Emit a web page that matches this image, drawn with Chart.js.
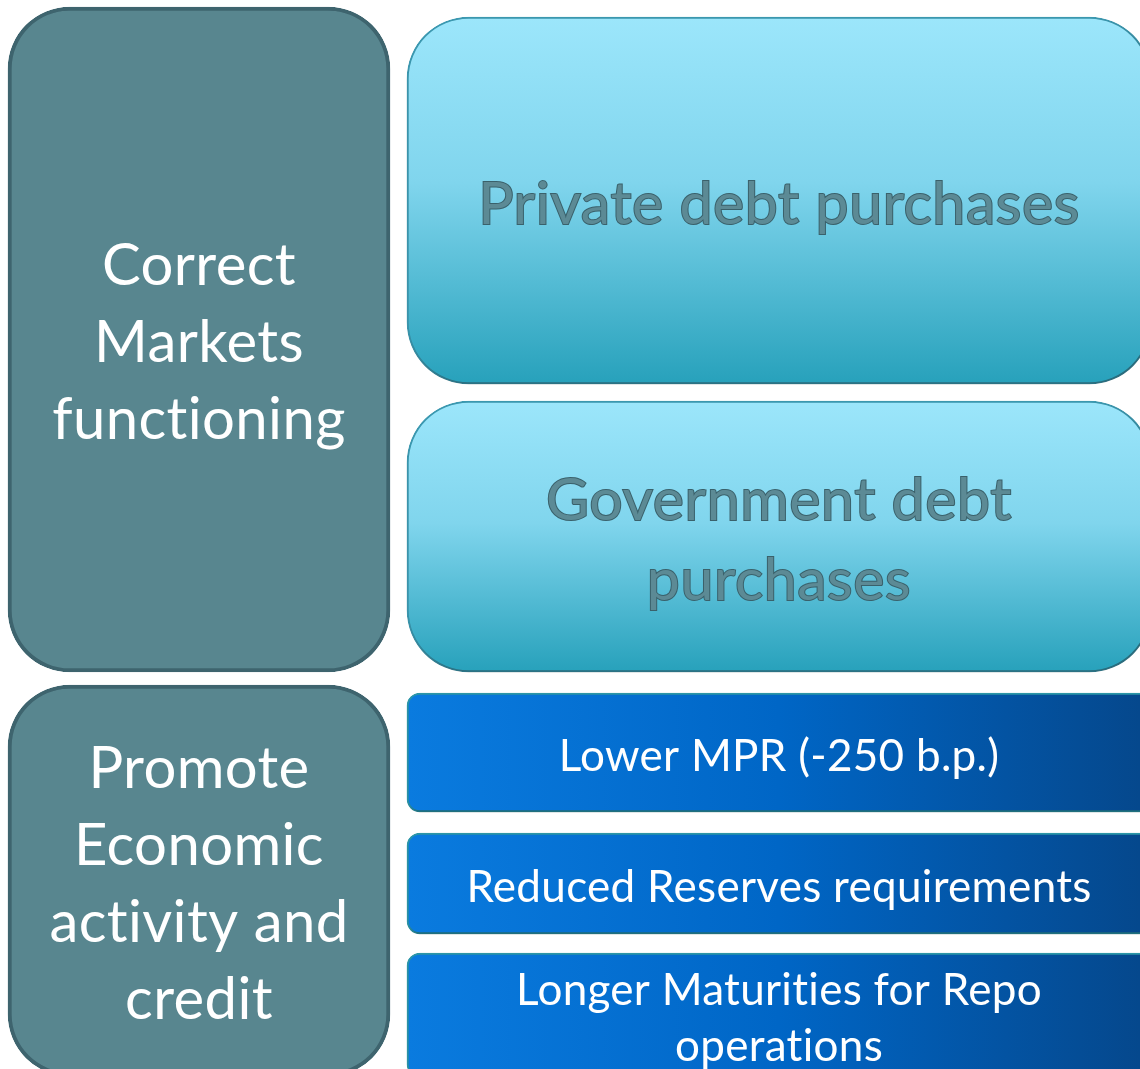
<!DOCTYPE html>
<html>
<head>
<meta charset="utf-8">
<script src="https://cdn.jsdelivr.net/npm/chart.js@4.4.1/dist/chart.umd.min.js"></script>
<style>
  html, body { margin: 0; padding: 0; background: #ffffff; }
  #wrap { width: 1140px; height: 1069px; position: relative; }
</style>
</head>
<body>
<div id="wrap"><canvas id="grafico"></canvas></div>
<script>
// columns of the diagram (index axis values)
const columnCenters = [199, 779];

// left column: objectives
const themeLabels = [["Correct", "Markets", "functioning"], ["Promote", "Economic", "activity and", "credit"]];
const themeSpans = [[7, 672], [685, 1076]];

// right column, top: asset purchases
const purchaseLabels = [["Private debt purchases"], ["Government debt", "purchases"]];
const purchaseSpans = [[17, 384], [401, 672]];

// right column, bottom: monetary measures
const measureLabels = [["Lower MPR (-250 b.p.)"], ["Reduced Reserves requirements"], ["Longer Maturities for Repo", "operations"]];
const measureSpans = [[693, 812], [833, 934], [953, 1077]];

function puntos(center, spans) {
    return spans.map(s => ({ x: center, y: s }));
}

function degradadoVertical(context) {
    const chart = context.chart;
    if (!chart.chartArea || !context.raw) return "#6ccbe4";
    const y = chart.scales.y;
    const top = y.getPixelForValue(context.raw.y[0]);
    const bottom = y.getPixelForValue(context.raw.y[1]);
    const g = chart.ctx.createLinearGradient(0, top, 0, bottom);
    g.addColorStop(0, "#9ce6fb");
    g.addColorStop(0.45, "#80d5ed");
    g.addColorStop(1, "#27a1bb");
    return g;
}

function degradadoHorizontal(context) {
    const chart = context.chart;
    if (!chart.chartArea || !context.raw) return "#0063c0";
    const x = chart.scales.x;
    const half = context.dataset.barThickness / 2;
    const left = x.getPixelForValue(context.raw.x) - half;
    const right = x.getPixelForValue(context.raw.x) + half;
    const g = chart.ctx.createLinearGradient(left, 0, right, 0);
    g.addColorStop(0, "#0a7bdf");
    g.addColorStop(0.5, "#0066c6");
    g.addColorStop(1, "#05478b");
    return g;
}

// drop shadow for the right hand boxes
const sombra = {
    id: "sombra",
    beforeDatasetDraw(chart, args) {
        const ds = chart.data.datasets[args.index];
        chart.ctx.save();
        if (ds.shadow) {
            chart.ctx.shadowColor = "rgba(0,0,0,0.35)";
            chart.ctx.shadowBlur = 5;
            chart.ctx.shadowOffsetX = 2;
            chart.ctx.shadowOffsetY = 3;
        }
    },
    afterDatasetDraw(chart) {
        chart.ctx.restore();
    }
};

// text inside every box
const textos = {
    id: "textos",
    afterDatasetsDraw(chart) {
        const ctx = chart.ctx;
        chart.data.datasets.forEach((ds, i) => {
            const meta = chart.getDatasetMeta(i);
            meta.data.forEach((bar, j) => {
                const lines = ds.texts[j];
                const cx = bar.x;
                const cy = (bar.y + bar.base) / 2 + 4;
                const start = cy - (lines.length - 1) * ds.lineHeight / 2;
                ctx.save();
                ctx.font = ds.fontSize + "px Lato";
                ctx.letterSpacing = ds.spacing;
                ctx.textAlign = "center";
                ctx.textBaseline = "middle";
                lines.forEach((line, k) => {
                    const ly = start + k * ds.lineHeight;
                    if (ds.embossed) {
                        ctx.lineWidth = 2;
                        ctx.strokeStyle = "#3a616b";
                        ctx.strokeText(line, cx, ly);
                        ctx.fillStyle = "#5c8a95";
                        ctx.fillText(line, cx, ly);
                    } else {
                        ctx.fillStyle = "#ffffff";
                        ctx.fillText(line, cx, ly);
                    }
                });
                ctx.restore();
            });
        });
    }
};

addEventListener("DOMContentLoaded", function () {
    new Chart("grafico", {
        type: "bar",
        data: {
            datasets: [
                {
                    data: puntos(columnCenters[0], themeSpans),
                    texts: themeLabels,
                    fontSize: 58, lineHeight: 77, spacing: "0.4px",
                    barThickness: 382,
                    backgroundColor: "#58868f",
                    borderColor: "#3e646e",
                    borderWidth: 4,
                    borderRadius: 62,
                    borderSkipped: false,
                    grouped: false
                },
                {
                    data: puntos(columnCenters[1], purchaseSpans),
                    texts: purchaseLabels,
                    fontSize: 59, lineHeight: 80, spacing: "0.6px",
                    embossed: true, shadow: true,
                    barThickness: 744,
                    backgroundColor: degradadoVertical,
                    borderColor: "#3c9ab2",
                    borderWidth: 2,
                    borderRadius: 62,
                    borderSkipped: false,
                    grouped: false
                },
                {
                    data: puntos(columnCenters[1], measureSpans),
                    texts: measureLabels,
                    fontSize: 44, lineHeight: 56, spacing: "0.3px",
                    shadow: true,
                    barThickness: 744,
                    backgroundColor: degradadoHorizontal,
                    borderColor: "#2c98ab",
                    borderWidth: 2,
                    borderRadius: 13,
                    borderSkipped: false,
                    grouped: false
                }
            ]
        },
        options: {
            responsive: true,
            maintainAspectRatio: false,
            animation: false,
            events: [],
            layout: { padding: 0 },
            plugins: { legend: { display: false }, tooltip: { enabled: false } },
            scales: {
                x: { type: "linear", min: 0, max: 1140, offset: false, display: false },
                y: { type: "linear", min: 0, max: 1069, reverse: true, display: false }
            }
        },
        plugins: [sombra, textos]
    });
});
</script>
</body>
</html>
